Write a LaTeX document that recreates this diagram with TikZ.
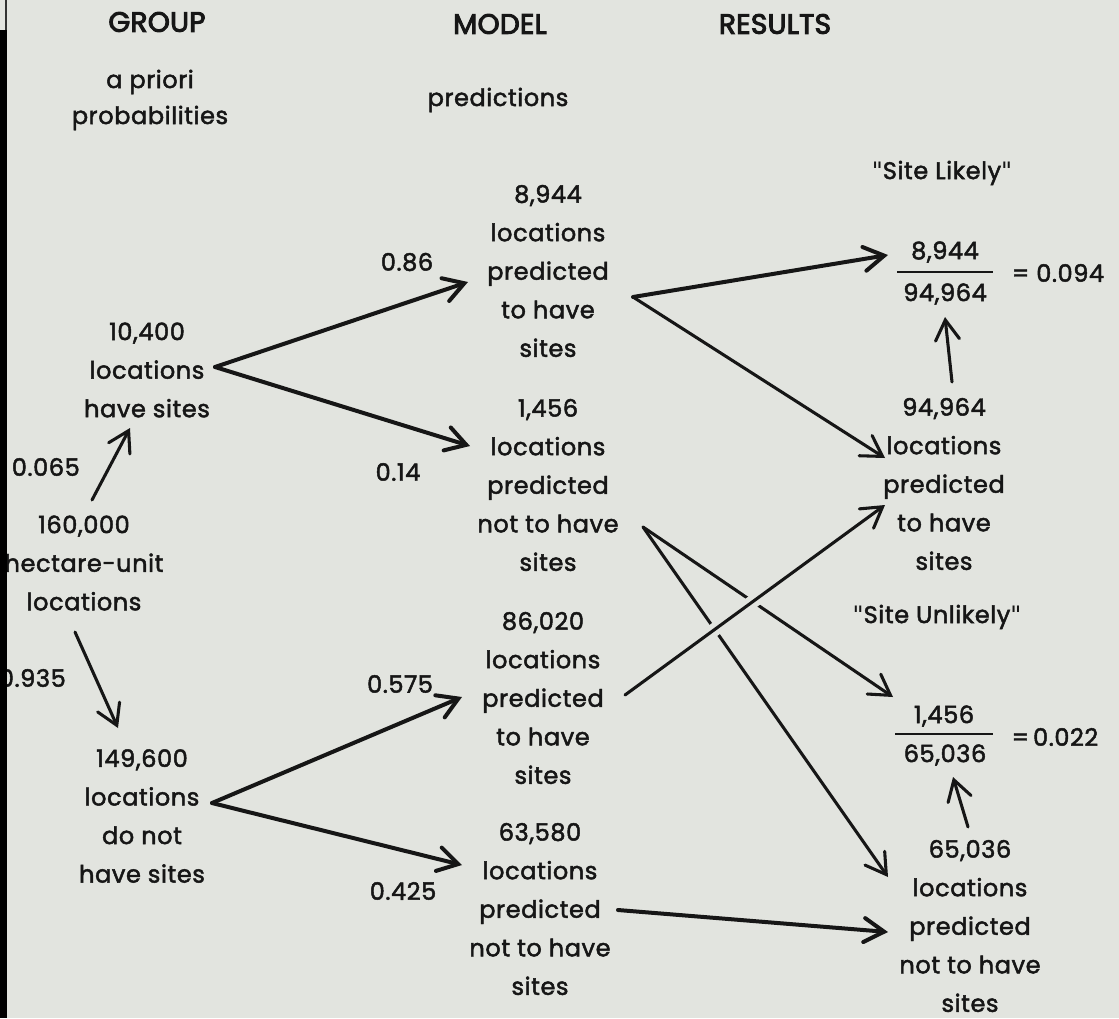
\documentclass[tikz,border=0pt]{standalone}
\usepackage{fontspec}
\setmainfont{Poppins}[LetterSpace=2.5, FakeBold=2]
\newfontfamily\headfont{Poppins}[LetterSpace=1, FakeBold=3.5]
\newfontfamily\quotefont{DejaVu Sans}
\newcommand{\dq}{{\quotefont\symbol{34}}}
\usetikzlibrary{arrows.meta}
\definecolor{bg}{RGB}{226,228,223}
\definecolor{ink}{RGB}{22,22,22}
\begin{document}
\begin{tikzpicture}[x=0.75pt,y=-0.75pt,
  txt/.style={inner sep=0pt, align=center, text=ink, font=\fontsize{18}{28.9}\selectfont},
  head/.style={inner sep=0pt, text=ink, font=\headfont\fontsize{21}{24}\selectfont},
  lbl/.style={inner sep=0pt, text=ink, font=\fontsize{18}{20}\selectfont},
  arr/.style={draw=ink, line width=3pt, line cap=round, -{Straight Barb[length=15pt,width=18pt,line cap=round]}},
  thinarr/.style={arr, line width=2.3pt},
  halo/.style={draw=bg, line width=10pt}]
\useasboundingbox (0,0) rectangle (1119,1018);
\fill[bg] (0,0) rectangle (1119,1018);

% headings
\node[head] (hgroup) at (157,22) {GROUP};
\node[head] (hmodel) at (500,24) {MODEL};
\node[head] (hresults) at (775,24) {RESULTS};
\node[txt, font=\fontsize{18}{27}\selectfont] (apriori) at (150,100) {a priori\\probabilities};
\node[txt] (pred) at (498,100) {predictions};

% group column
\node[txt] (g1) at (147,370) {10,400\\locations\\have sites};
\node[txt] (g0) at (84,563) {160,000\\hectare-unit\\locations};
\node[txt] (g2) at (142,816) {149,600\\locations\\do not\\have sites};
\node[lbl, anchor=east] (p065) at (80,467) {0.065};
\node[lbl, anchor=east] (p935) at (66,678) {0.935};

% model column
\node[txt] (m1) at (548,271) {8,944\\locations\\predicted\\to have\\sites};
\node[txt] (m2) at (548,485) {1,456\\locations\\predicted\\not to have\\sites};
\node[txt] (m3) at (543,698) {86,020\\locations\\predicted\\to have\\sites};
\node[txt] (m4) at (540,909) {63,580\\locations\\predicted\\not to have\\sites};
\node[lbl] (p86) at (407,262) {0.86};
\node[lbl] (p14) at (398,472) {0.14};
\node[lbl] (p575) at (400,684) {0.575};
\node[lbl] (p425) at (403,891) {0.425};

% results column
\node[txt] (likely) at (942,173) {\dq Site Likely\dq};
\node[txt] (f1num) at (945,252) {8,944};
\node[txt] (f1den) at (945,294) {94,964};
\node[txt] (f1eq) at (1058,273) {= 0.094};
\node[txt] (r1) at (944,484) {94,964\\locations\\predicted\\to have\\sites};
\node[txt] (unlikely) at (937,617) {\dq Site Unlikely\dq};
\node[txt] (f2num) at (944,716) {1,456};
\node[txt] (f2den) at (945,755) {65,036};
\node[txt] (f2eq) at (1055,737) {=\,0.022};
\node[txt] (r2) at (970,926) {65,036\\locations\\predicted\\not to have\\sites};

% fraction bars
\coordinate (b1l) at (897,272); \coordinate (b1r) at (993,272);
\coordinate (b2l) at (895,734); \coordinate (b2r) at (993,734);
\draw[ink, line width=2.2pt] (b1l) -- (b1r);
\draw[ink, line width=2.2pt] (b2l) -- (b2r);

% connector end points
\coordinate (g0up) at (92,500);   \coordinate (g1in) at (130,428);
\coordinate (g0dn) at (75,632);   \coordinate (g2in) at (118,728);
\coordinate (g1out) at (215,367);
\coordinate (m1in) at (468,282);  \coordinate (m2in) at (470,446);
\coordinate (g2out) at (212,803);
\coordinate (m3in) at (462,697);  \coordinate (m4in) at (462,865);
\coordinate (m1out) at (633,297);
\coordinate (f1in) at (888,255);  \coordinate (r1inA) at (885,458);
\coordinate (r1up) at (952,382);  \coordinate (f1bot) at (945,317);
\coordinate (m2out) at (643,527);
\coordinate (f2in) at (893,697);  \coordinate (r2inA) at (888,877);
\coordinate (m3out) at (625,695); \coordinate (r1inB) at (885,505);
\coordinate (r2up) at (968,827);  \coordinate (f2bot) at (953,777);
\coordinate (m4out) at (618,910); \coordinate (r2inB) at (888,932);

% connectors
\draw[thinarr] (g0up) -- (g1in);
\draw[thinarr] (g0dn) -- (g2in);
\draw[arr] (g1out) -- (m1in);
\draw[arr] (g1out) -- (m2in);
\draw[arr] (g2out) -- (m3in);
\draw[arr] (g2out) -- (m4in);
\draw[arr] (m1out) -- (f1in);
\draw[thinarr] (m1out) -- (r1inA);
\draw[thinarr] (r1up) -- (f1bot);
\draw[thinarr] (m2out) -- (f2in);
\draw[thinarr] (m2out) -- (r2inA);
\path (m3out) -- (r1inB) coordinate[pos=0.22] (hx1) coordinate[pos=0.62] (hx2);
\draw[halo] (hx1) -- (hx2);
\draw[thinarr] (m3out) -- (r1inB);
\draw[thinarr] (r2up) -- (f2bot);
\draw[arr] (m4out) -- (r2inB);

% scanner edge
\fill[black] (0,30) rectangle (7,1018);
\fill[black!80] (5,0) rectangle (7,30);
\end{tikzpicture}
\end{document}
